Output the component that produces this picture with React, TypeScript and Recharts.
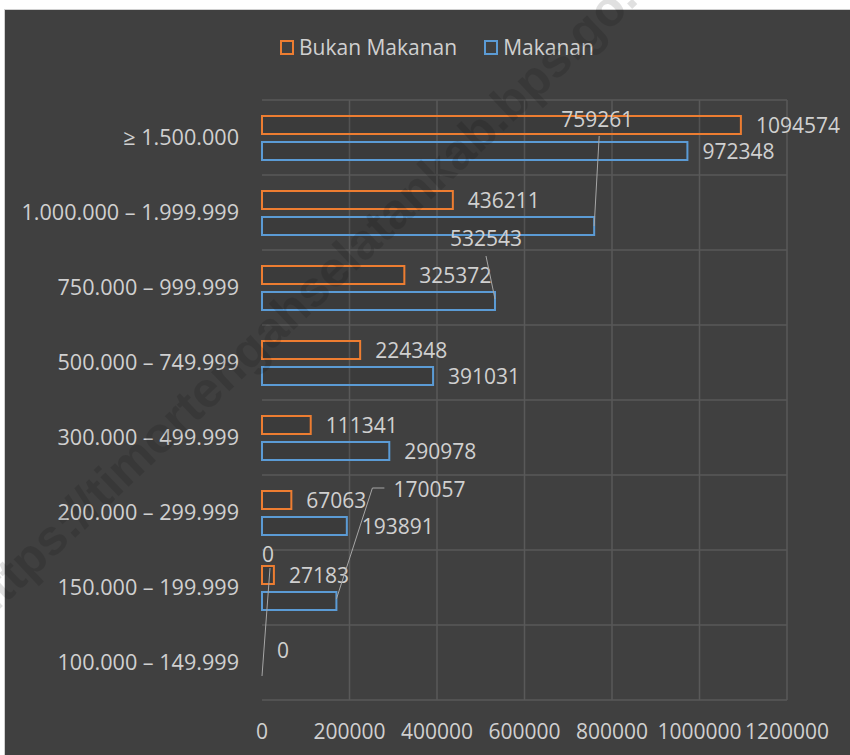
import { BarChart, Bar, XAxis, YAxis, CartesianGrid, LabelList, Rectangle } from 'recharts'

const categories = [
  '≥ 1.500.000',
  '1.000.000 – 1.999.999',
  '750.000 – 999.999',
  '500.000 – 749.999',
  '300.000 – 499.999',
  '200.000 – 299.999',
  '150.000 – 199.999',
  '100.000 – 149.999',
]
const bukanMakanan = [1094574, 436211, 325372, 224348, 111341, 67063, 27183, 0]
const makanan = [972348, 759261, 532543, 391031, 290978, 193891, 170057, 0]
const xTicks = [0, 200000, 400000, 600000, 800000, 1000000, 1200000]

const ORANGE = '#ED7D31'
const BLUE = '#5B9BD5'
const TEXT = '#d0d0d0'
const FONT = '"Open Sans", "Noto Sans", sans-serif'

const data = categories.map((category, i) => ({
  category,
  bukan: bukanMakanan[i],
  makanan: makanan[i],
}))

// labels that were dragged away from their bar, relative to the bar end
type Move = { dx: number; dy: number; anchor: 'start' | 'middle'; line: [number, number][] }
const makananMoves: Record<number, Move> = {
  1: { dx: 3, dy: -107, anchor: 'middle', line: [[0, 0], [5, -90]] },
  2: { dx: -9, dy: -63, anchor: 'middle', line: [[0, -2], [-9, -45]] },
  6: { dx: 57, dy: -112, anchor: 'start', line: [[0, -2], [36, -113], [48, -113]] },
  7: { dx: 6, dy: -122, anchor: 'middle', line: [[0, 0], [8, -108]] },
}

function makeLabel(moves: Record<number, Move>) {
  return (props: any) => {
    const { x, y, width, height, value, index } = props
    const ex = Number(x) + (value === 0 ? 0 : Number(width))
    const my = Number(y) + Number(height) / 2
    const mv = moves[index]
    if (!mv) {
      return (
        <text x={ex + 15} y={my} dominantBaseline="central" textAnchor="start"
          fill={TEXT} fontSize={21} fontFamily={FONT}>
          {value}
        </text>
      )
    }
    const pts = mv.line.map(([a, b]) => `${ex + a},${my + b}`).join(' ')
    return (
      <g>
        <polyline points={pts} fill="none" stroke="#a6a6a6" strokeWidth={1} />
        <text x={ex + mv.dx} y={my + mv.dy} dominantBaseline="central" textAnchor={mv.anchor}
          fill={TEXT} fontSize={21} fontFamily={FONT}>
          {value}
        </text>
      </g>
    )
  }
}

// zero bars keep their slot (for the label) but draw nothing
const barShape = (props: any) => (Number(props.width) < 1 ? <g /> : <Rectangle {...props} />)

const series = [
  { key: 'bukan', name: 'Bukan Makanan', color: ORANGE },
  { key: 'makanan', name: 'Makanan', color: BLUE },
]

export default function App() {
  return (
    <div style={{ position: 'absolute', left: 0, top: 0, width: 850, height: 755, background: '#fff', overflow: 'hidden' }}>
      <div style={{ position: 'absolute', left: 4, top: 9, right: 0, bottom: 0, background: '#404040', borderLeft: '1px solid #d0d0d0', borderTop: '1px solid #d0d0d0' }} />
      <div style={{ position: 'absolute', left: 0, top: 0 }}>
        <BarChart width={850} height={755} data={data} layout="vertical"
          margin={{ top: 100, right: 63, bottom: 0, left: 0 }}
          barSize={18} barGap={8}>
          <CartesianGrid stroke="#595959" strokeWidth={1.5}
            horizontalCoordinatesGenerator={({ offset }: any) =>
              categories.map((_, i) => offset.top + (i * offset.height) / categories.length).concat(offset.top + offset.height)}
            verticalCoordinatesGenerator={({ offset }: any) =>
              xTicks.slice(1).map((t) => offset.left + (t / xTicks[xTicks.length - 1]) * offset.width)}
          />
          <XAxis type="number" domain={[0, 1200000]} ticks={xTicks} interval={0}
            axisLine={false} tickLine={false} tickSize={0} tickMargin={24} height={55}
            tick={{ fill: TEXT, fontSize: 21, fontFamily: FONT }} />
          <YAxis type="category" dataKey="category" width={262}
            axisLine={false} tickLine={false} tickSize={0} tickMargin={23}
            tick={{ fill: TEXT, fontSize: 21.6, fontFamily: FONT }} />
          <Bar dataKey="bukan" name="Bukan Makanan" fill="rgba(0,0,0,0.07)" stroke={ORANGE} strokeWidth={2}
            minPointSize={0.01} shape={barShape} isAnimationActive={false}>
            <LabelList dataKey="bukan" content={makeLabel({})} />
          </Bar>
          <Bar dataKey="makanan" name="Makanan" fill="rgba(0,0,0,0.07)" stroke={BLUE} strokeWidth={2}
            minPointSize={0.01} shape={barShape} isAnimationActive={false}>
            <LabelList dataKey="makanan" content={makeLabel(makananMoves)} />
          </Bar>
        </BarChart>
      </div>
      <div style={{ position: 'absolute', left: 280, top: 33, display: 'flex', alignItems: 'center', fontFamily: FONT, fontSize: 21, color: TEXT }}>
        {series.map((s, i) => (
          <div key={s.key} style={{ display: 'flex', alignItems: 'center', marginRight: i === 0 ? 27 : 0 }}>
            <span style={{ display: 'inline-block', width: 10, height: 11, border: `2px solid ${s.color}`, marginRight: 5 }} />
            <span>{s.name}</span>
          </div>
        ))}
      </div>
      <svg width={850} height={755} style={{ position: 'absolute', left: 0, top: 0, pointerEvents: 'none' }}>
        <text x={-17} y={625} transform="rotate(-43.5 -17 625)" fontSize={50} fontWeight="bold"
          fontFamily='"Liberation Sans", Arial, sans-serif' fill="rgba(0,0,0,0.12)">
          https://timortengahselatankab.bps.go.id
        </text>
      </svg>
    </div>
  )
}
